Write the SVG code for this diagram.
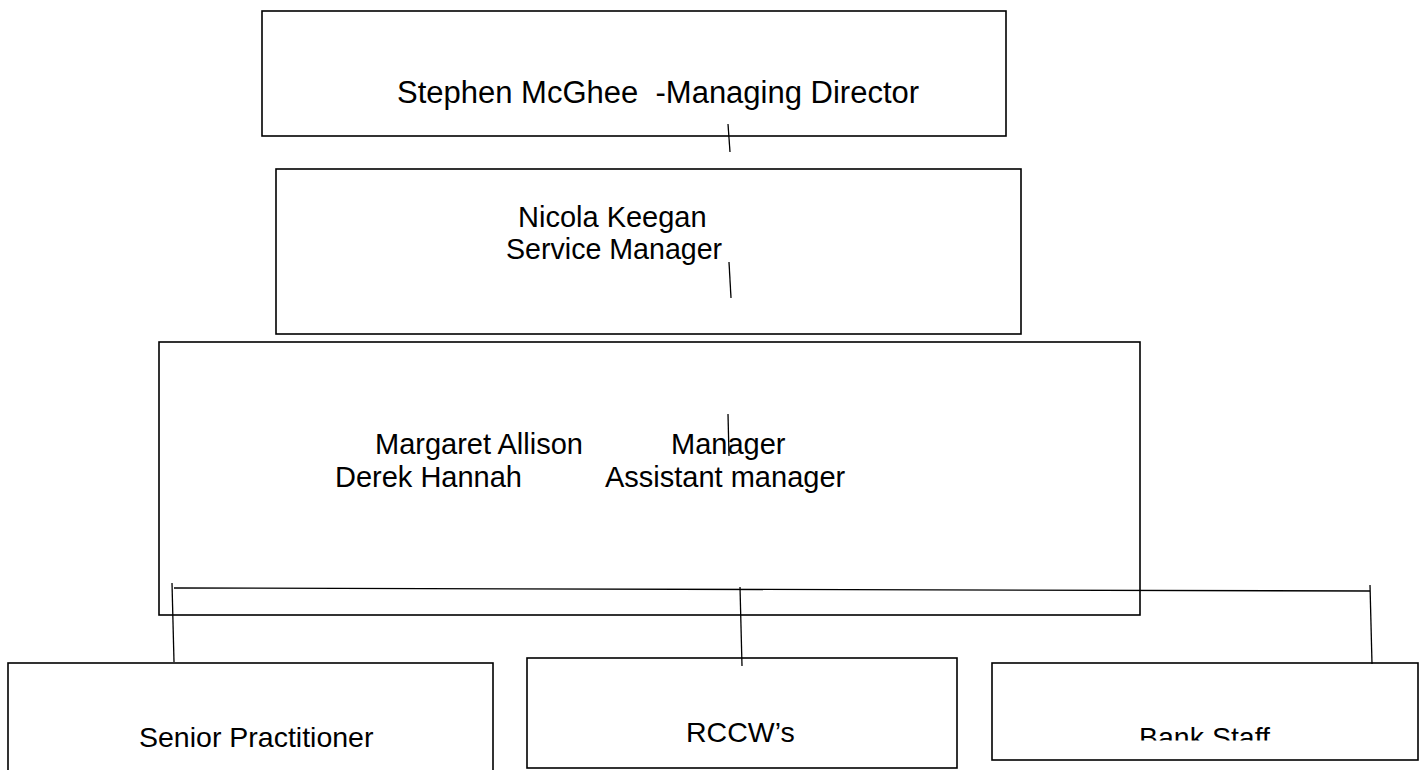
<svg xmlns="http://www.w3.org/2000/svg" width="1425" height="770" viewBox="0 0 1425 770">
<style>
.box{fill:#fff;stroke:#000;stroke-width:1.6}
.t{font-family:"Liberation Sans",Arial,sans-serif;font-size:29px;fill:#000}
.b{font-family:"Liberation Sans",Arial,sans-serif;font-size:28.5px;fill:#000}
.c{stroke:#000;stroke-width:1.3;fill:none}
</style>
<defs><clipPath id="bankclip"><rect x="990" y="660" width="430" height="80.5"/></clipPath></defs>
<rect width="1425" height="770" fill="#fff"/>
<g id="md">
<rect class="box" x="262" y="11" width="744" height="125"/>
<text class="t" x="397" y="103" style="font-size:31px" xml:space="preserve">Stephen McGhee  -Managing Director</text>
</g>
<g id="sm">
<rect class="box" x="276" y="169" width="745" height="165"/>
<text class="t" x="518" y="227">Nicola Keegan</text>
<text class="t" x="506" y="259" style="font-size:28.6px">Service Manager</text>
</g>
<g id="mgr">
<rect class="box" x="159" y="342" width="981" height="273"/>
<text class="t" x="375" y="454">Margaret Allison</text>
<text class="t" x="671" y="454">Manager</text>
<text class="t" x="335" y="487">Derek Hannah</text>
<text class="t" x="605" y="487">Assistant manager</text>
</g>
<g id="sp">
<rect class="box" x="8" y="663" width="485" height="120"/>
<text class="b" x="139" y="747">Senior Practitioner</text>
</g>
<g id="rccw">
<rect class="box" x="527" y="658" width="430" height="110"/>
<text class="b" x="686" y="742">RCCW’s</text>
</g>
<g id="bank">
<rect class="box" x="992" y="663" width="426" height="97"/>
<text class="b" x="1139" y="747" clip-path="url(#bankclip)">Bank Staff</text>
</g>
<g id="connectors">
<line class="c" x1="728" y1="124" x2="730" y2="152"/>
<line class="c" x1="729" y1="262" x2="731" y2="298"/>
<line class="c" x1="728" y1="414" x2="729" y2="456"/>
<line class="c" x1="174" y1="588" x2="1370" y2="591"/>
<line class="c" x1="172" y1="583" x2="174" y2="662"/>
<line class="c" x1="740" y1="587" x2="742" y2="666"/>
<line class="c" x1="1370" y1="585" x2="1372" y2="664"/>
</g>
</svg>
